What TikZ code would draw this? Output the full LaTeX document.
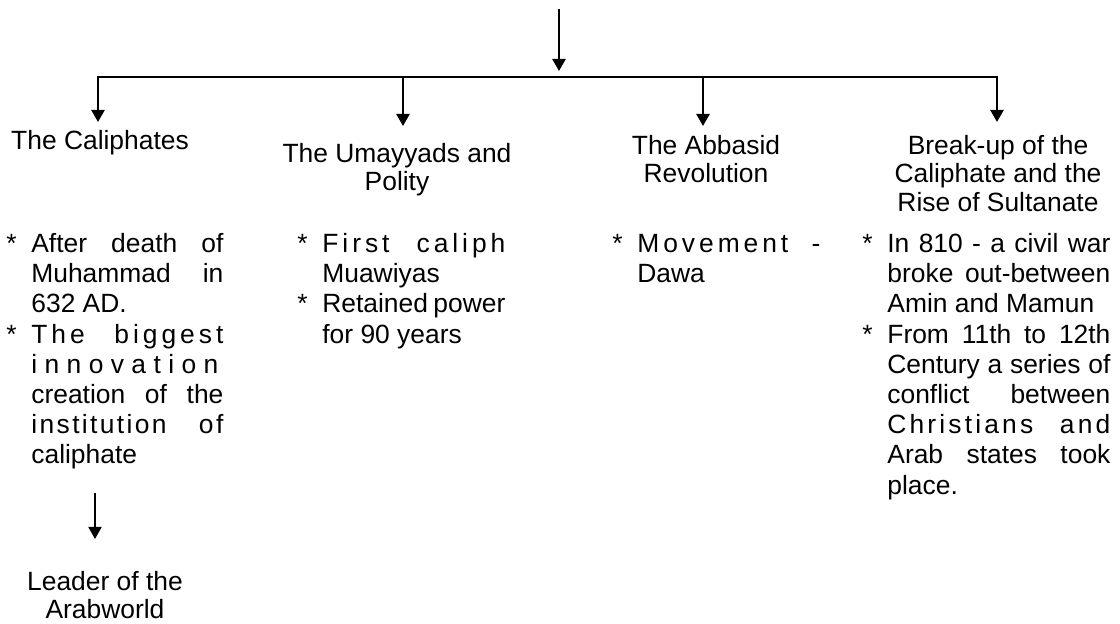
\documentclass[tikz,border=0pt]{standalone}
\usepackage{fontspec}
\setmainfont{Liberation Sans}
\usetikzlibrary{arrows.meta}

\newlength\bulgap
\setlength\bulgap{12.5pt}
\newcommand\loosepar{\tolerance=10000 \hbadness=10000 \hfuzz=20pt \hyphenpenalty=10000 \exhyphenpenalty=10000 }
\newcommand\bul[1]{\par\hangindent=\bulgap\hangafter=1\noindent\makebox[\bulgap][l]{*}#1\par}
\newcommand\ls[2]{{\addfontfeature{LetterSpace=#1}#2}}

\begin{document}
\begin{tikzpicture}[x=0.5pt, y=-0.5pt,
  arr/.style={-{Triangle[width=6.5pt,length=6pt]}, line width=1.2pt},
  head/.style={anchor=north, inner sep=0pt, align=center, font=\fontsize{13.2pt}{14.2pt}\selectfont},
  bullets/.style={anchor=north west, inner sep=0pt, align=justify,
    font=\fontsize{13.2pt}{15.1pt}\selectfont, execute at begin node=\loosepar}]

\useasboundingbox (0,0) rectangle (1120,624);

\node[head] (calhead) at (100,130) {The Caliphates};
\node[head] (umahead) at (397,143) {The Umayyads and\\Polity};
\node[head] (abbhead) at (706,135) {The Abbasid\\Revolution};
\node[head] (brkhead) at (998,135) {Break-up of the\\Caliphate and the\\Rise of Sultanate};

\node[bullets, text width=108.5pt] (calbul) at (6,222) {%
  \bul{After death of\linebreak Muhammad in\linebreak 632 AD.}%
  \bul{\ls{15}{The biggest}\linebreak \ls{28}{innovation}\linebreak creation of the\linebreak \ls{9}{institution of}\linebreak caliphate}};
\node[bullets, text width=104pt] (umabul) at (297,222) {%
  \bul{\ls{15}{First caliph}\linebreak Muawiyas}%
  \bul{Retained power\linebreak for 90 years}};
\node[bullets, text width=104pt] (abbbul) at (612,222) {%
  \bul{\ls{15}{Movement -}\linebreak Dawa}};
\node[bullets, text width=124pt] (brkbul) at (862,222) {%
  \bul{In 810 - a civil war\linebreak broke out-between\linebreak Amin and Mamun}%
  \bul{From 11th to 12th\linebreak Century a series of\linebreak conflict between\linebreak \ls{12}{Christians and}\linebreak Arab states took\linebreak place.}};

\node[head] (leader) at (105,571) {Leader of the\\Arabworld};

\coordinate (src) at (559,9);
\coordinate (hub) at (559,77);
\coordinate (busl) at (98,77);
\coordinate (busr) at (997,77);
\coordinate (bumay) at (403,77);
\coordinate (babb) at (703,77);
\coordinate (lsrc) at (95,493);

\draw[arr, shorten >=3pt] (src) -- (hub);
\draw[line width=1.2pt, line cap=rect] (busl) -- (busr);
\draw[arr, shorten >=4pt] (busl) -- (busl |- calhead.north);
\draw[arr, shorten >=8.5pt] (bumay) -- (bumay |- umahead.north);
\draw[arr, shorten >=4.5pt] (babb) -- (babb |- abbhead.north);
\draw[arr, shorten >=6.5pt] (busr) -- (busr |- brkhead.north);
\draw[arr, line width=0.9pt, shorten >=16pt] (lsrc) -- (lsrc |- leader.north);

\end{tikzpicture}
\end{document}
